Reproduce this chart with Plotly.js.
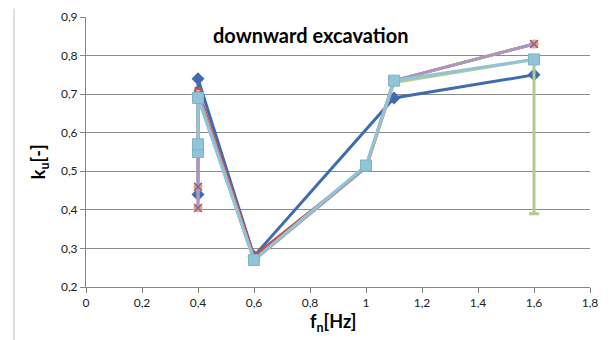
<!DOCTYPE html>
<html><head><meta charset="utf-8">
<script src="https://cdn.plot.ly/plotly-3.0.1.min.js"></script>
<style>html,body{margin:0;padding:0;background:#fff}#chart{width:611px;height:340px}</style>
</head><body><div id="chart"></div>
<script>
// Data (x = fn [Hz], y = ku [-])
const xBlue = [0.4, 0.4, 0.6, 1.1, 1.6];
const yBlue = [0.44, 0.74, 0.28, 0.69, 0.75];
const xRed = [0.4, 0.6, 1.0, 1.1, 1.6];
const yRed = [0.71, 0.28, 0.51, 0.735, 0.83];
const xGreen = [0.4, 0.6, 1.0, 1.1, 1.6];
const yGreen = [0.70, 0.27, 0.51, 0.73, 0.79];
const greenErrMinus = [0, 0, 0, 0, 0.40];
const xOrange = [0.4, 0.4, 0.4, 0.6, 1.0, 1.1, 1.6];
const yOrange = [0.405, 0.46, 0.70, 0.27, 0.51, 0.735, 0.83];
const xPurple = [0.4, 0.4, 0.4, 0.6, 1.0, 1.1, 1.6];
const yPurple = [0.405, 0.46, 0.70, 0.27, 0.51, 0.735, 0.83];
const xCyan = [0.4, 0.4, 0.4, 0.6, 1.0, 1.1, 1.6];
const yCyan = [0.55, 0.57, 0.69, 0.27, 0.515, 0.735, 0.79];
const xTicks = [0, 0.2, 0.4, 0.6, 0.8, 1, 1.2, 1.4, 1.6, 1.8];
const yTicks = [0.2, 0.3, 0.4, 0.5, 0.6, 0.7, 0.8, 0.9];

function tr(x, y, color, symbol, size, extra) {
  return Object.assign({
    x: x, y: y, type: 'scatter', mode: 'lines+markers',
    line: {color: color, width: 3},
    marker: {color: color, symbol: symbol, size: size},
    showlegend: false, hoverinfo: 'skip'
  }, extra || {});
}

const data = [
  tr(xBlue, yBlue, '#3F6CB0', 'diamond', 10),
  tr(xRed, yRed, '#C0504D', 'square', 7),
  tr(xGreen, yGreen, '#B3CC8C', 'triangle-up', 8, {
    error_y: {type: 'data', symmetric: false, array: [0,0,0,0,0], arrayminus: greenErrMinus,
      color: '#B3CC8C', thickness: 3, width: 5}
  }),
  tr(xOrange, yOrange, '#F7A264', 'circle', 9),
  tr(xPurple, yPurple, '#A598C2', 'x-thin-open', 8, {marker: {color: '#7B62A8', symbol: 'x-thin-open', size: 8, line: {color: '#7B62A8', width: 1.5}}}),
  tr(xCyan, yCyan, '#90C4D6', 'square', 11, {marker: {color: '#90C4D6', symbol: 'square', size: 11, line: {color: '#7FB4C8', width: 1}}})
];

const font = 'Lato, "Open Sans", sans-serif';
const layout = {
  width: 611, height: 340,
  margin: {l: 86, r: 21, t: 16.5, b: 52.5, autoexpand: false},
  paper_bgcolor: '#fff', plot_bgcolor: '#fff',
  separators: ', ',
  font: {family: font, size: 12, color: '#222'},
  xaxis: {
    range: [0, 1.8], tickvals: xTicks, showgrid: false, zeroline: false,
    showline: true, linecolor: '#868686', linewidth: 1,
    ticks: 'outside', ticklen: 5, tickcolor: '#868686',
    tickfont: {family: font, size: 12, color: '#222'}
  },
  yaxis: {
    range: [0.2, 0.9], tickvals: yTicks, showgrid: true, gridcolor: '#8C8C8C', gridwidth: 1,
    zeroline: false, showline: true, linecolor: '#868686', linewidth: 1,
    ticks: 'outside', ticklen: 5, tickcolor: '#868686',
    tickfont: {family: font, size: 12, color: '#222'}
  },
  annotations: [
    {text: '<b>downward excavation</b>', xref: 'paper', yref: 'paper', x: 0.446, y: 0.935,
      xanchor: 'center', yanchor: 'middle',
      showarrow: false, font: {family: font, size: 20, color: '#000'}},
    {text: '<b>k<sub>u</sub>[-]</b>', xref: 'paper', yref: 'paper', x: -0.091, y: 0.463,
      xanchor: 'center', yanchor: 'middle',
      textangle: -90, showarrow: false, font: {family: font, size: 18, color: '#000'}},
    {text: '<b>f<sub>n</sub>[Hz]</b>', xref: 'paper', yref: 'paper', x: 0.49, y: -0.13,
      xanchor: 'center', yanchor: 'middle',
      showarrow: false, font: {family: font, size: 18, color: '#000'}}
  ],
  shapes: [
    {type: 'line', xref: 'paper', yref: 'paper', x0: -0.1429, x1: -0.1429, y0: 1.031, y1: -0.2,
      line: {color: '#BFBFBF', width: 1}}
  ]
};
Plotly.newPlot('chart', data, layout, {displayModeBar: false, staticPlot: true});
</script></body></html>
